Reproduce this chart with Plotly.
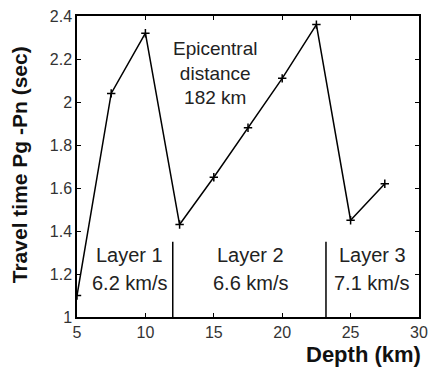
import plotly.graph_objects as go

depth = [5, 7.5, 10, 12.5, 15, 17.5, 20, 22.5, 25, 27.5]
travel = [1.10, 2.04, 2.32, 1.43, 1.65, 1.88, 2.11, 2.36, 1.45, 1.62]
boundaries = [12, 23.2]
boundary_top = 1.35
layer_names = ["Layer 1", "Layer 2", "Layer 3"]
layer_speeds = ["6.2 km/s", "6.6 km/s", "7.1 km/s"]
layer_x = [8.85, 17.7, 26.6]
epi_text = "Epicentral<br>distance<br>182 km"
x_ticks = [5, 10, 15, 20, 25, 30]
y_ticks = [1, 1.2, 1.4, 1.6, 1.8, 2, 2.2, 2.4]
y_tick_text = ["1", "1.2", "1.4", "1.6", "1.8", "2", "2.2", "2.4"]

fig = go.Figure()
fig.add_trace(go.Scatter(
    x=depth, y=travel, mode="lines+markers",
    line=dict(color="black", width=1.5),
    marker=dict(symbol="cross-thin", size=6, line=dict(color="black", width=1.5)),
    showlegend=False, hoverinfo="skip"))
for b in boundaries:
    fig.add_trace(go.Scatter(x=[b, b], y=[1, boundary_top], mode="lines",
                             line=dict(color="black", width=1.5), showlegend=False,
                             hoverinfo="skip"))

font_main = "Liberation Sans, Arial, sans-serif"
for lx, ln, ls in zip(layer_x, layer_names, layer_speeds):
    fig.add_annotation(x=lx, y=1.29, text=ln, showarrow=False,
                       font=dict(family=font_main, size=20, color="#222"))
    fig.add_annotation(x=lx, y=1.159, text=ls, showarrow=False,
                       font=dict(family=font_main, size=20, color="#222"))
fig.add_annotation(x=15.15, y=2.137, text=epi_text, showarrow=False, align="center",
                   font=dict(family=font_main, size=19, color="#222"))

fig.add_annotation(xref="paper", yref="paper", x=1.01, y=-0.124, xanchor="right", yanchor="middle",
                   text="<b>Depth (km)</b>", showarrow=False, borderpad=0,
                   font=dict(family=font_main, size=22, color="#111"))
fig.add_annotation(xref="paper", yref="paper", x=-0.166, y=0.505, xanchor="center", yanchor="middle",
                   text="<b>Travel time Pg -Pn (sec)</b>", textangle=-90, showarrow=False,
                   font=dict(family=font_main, size=21, color="#111"))

axis_common = dict(showgrid=False, zeroline=False, showline=True, linecolor="black",
                   linewidth=1.5, mirror="ticks", ticks="inside", ticklen=4,
                   tickcolor="black", tickwidth=1.2, ticklabeloverflow="allow",
                   tickfont=dict(family=font_main, size=16, color="#333"))
fig.update_xaxes(range=[5, 30], tickvals=x_ticks, **axis_common)
fig.update_yaxes(range=[1, 2.4], tickvals=y_ticks, ticktext=y_tick_text, **axis_common)

fig.update_layout(width=436, height=370, margin=dict(l=77, r=16, t=8, b=53),
                  plot_bgcolor="white", paper_bgcolor="white")
fig.write_html("out.html", config={"displayModeBar": False},
               post_script="document.body.style.margin='0';")
